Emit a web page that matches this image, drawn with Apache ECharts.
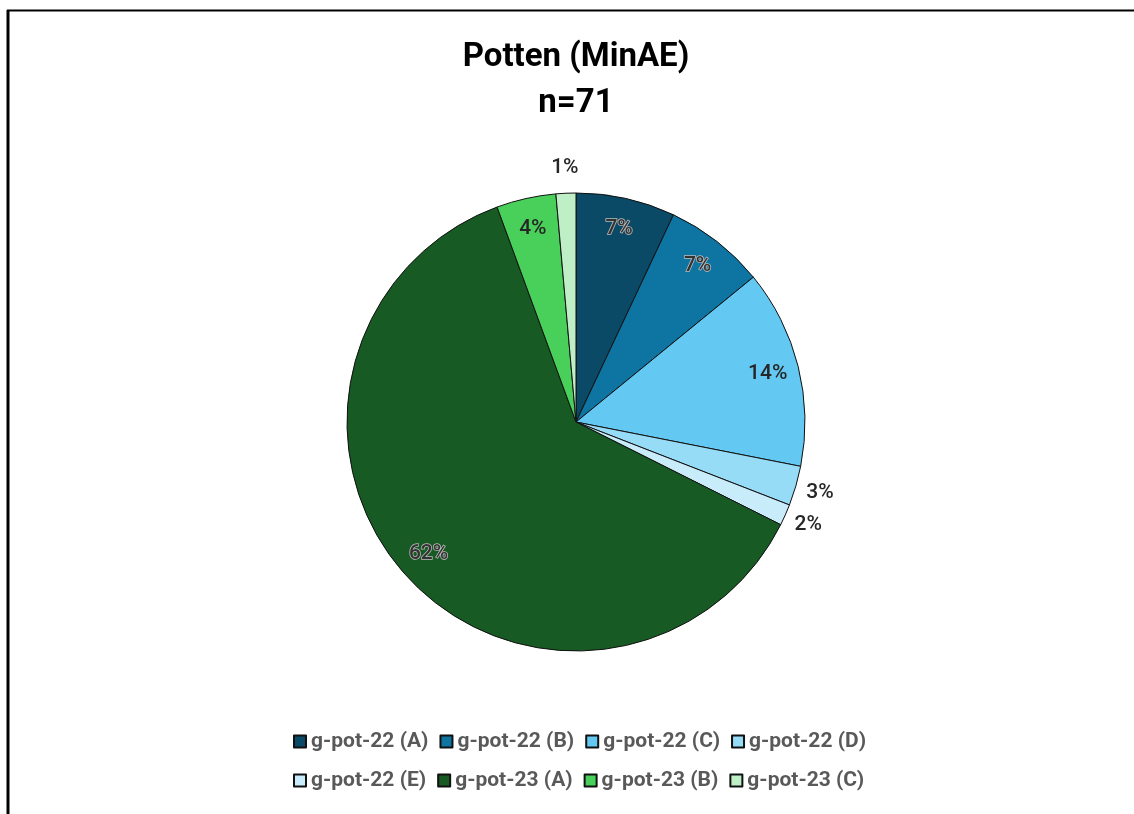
<!DOCTYPE html>
<html>
<head>
<meta charset="utf-8">
<script src="https://cdn.jsdelivr.net/npm/echarts@6/dist/echarts.min.js"></script>
<style>
  html,body{margin:0;padding:0;background:#fff;}
  #chart{width:1134px;height:814px;}
</style>
</head>
<body>
<div id="chart"></div>
<script>
// 数据：各分组所占百分比
const categories = ['g-pot-22 (A)','g-pot-22 (B)','g-pot-22 (C)','g-pot-22 (D)',
                    'g-pot-22 (E)','g-pot-23 (A)','g-pot-23 (B)','g-pot-23 (C)']
const shares = [7.0, 7.1, 14.0, 2.8, 1.5, 62.0, 4.2, 1.4]
const sampleSize = 71

const palette = ['#0b4a66','#0e74a2','#63c9f2','#96dcf7','#c9ecfa','#175a23','#48d05a','#bfefc6']

const R = 229
const center = [576, 422]
const font = 'Roboto'

function isDark(hex){
  const n = parseInt(hex.slice(1),16)
  const r = n>>16, g = (n>>8)&255, b = n&255
  return (0.299*r + 0.587*g + 0.114*b) < 110
}

const mainData = categories.map((name,i)=>({
  name, value: shares[i],
  itemStyle:{color: palette[i]}
}))

// 标签环：大块标签在内，小块标签在外
function labelRing(inside){
  return categories.map((name,i)=>{
    const show = inside ? shares[i] >= 4 : shares[i] < 4
    const halo = inside && isDark(palette[i])
    return {
      name, value: shares[i],
      itemStyle:{color:'transparent', borderWidth:0},
      label:{
        show,
        color: halo ? '#333' : '#262626',
        textBorderColor: halo ? '#bdbdbd' : 'transparent',
        textBorderWidth: halo ? 1.5 : 0
      }
    }
  })
}

const labelBase = {
  position:'inside',
  fontFamily: font,
  fontSize: 21,
  formatter: p => Math.round(p.value) + '%'
}

const chart = echarts.init(document.getElementById('chart'))
chart.setOption({
  animation:false,
  backgroundColor:'#fff',
  title:{
    text:'Potten (MinAE)\nn=' + sampleSize,
    left:576,
    top:35,
    textAlign:'center',
    padding:0,
    textStyle:{
      fontFamily: font,
      fontSize:33,
      fontWeight:'bold',
      lineHeight:46,
      color:'#000'
    }
  },
  legend:[0,1].map(row=>({
    data: categories.slice(row*4, row*4+4),
    left:293,
    top: 731 + row*39,
    padding:0,
    icon:'rect',
    itemWidth:12,
    itemHeight:12,
    itemGap:11,
    selectedMode:false,
    textStyle:{
      fontFamily: font,
      fontSize:21,
      fontWeight:'bold',
      color:'#595959'
    }
  })),
  graphic:[
    {type:'line', shape:{x1:7, y1:10.5, x2:1134, y2:10.5}, style:{stroke:'#000', lineWidth:2}},
    {type:'line', shape:{x1:8, y1:10, x2:8, y2:814}, style:{stroke:'#000', lineWidth:3}}
  ],
  series:[
    {
      type:'pie',
      center,
      radius:R,
      startAngle:90,
      clockwise:true,
      label:{show:false},
      labelLine:{show:false},
      itemStyle:{borderColor:'#111', borderWidth:1},
      emphasis:{disabled:true},
      data: mainData
    },
    {
      type:'pie',
      center,
      radius:[R*0.7, R],
      startAngle:90,
      silent:true,
      avoidLabelOverlap:false,
      label:{...labelBase, fontWeight:500},
      labelLine:{show:false},
      emphasis:{disabled:true},
      data: labelRing(true)
    },
    {
      type:'pie',
      center,
      radius:[R, R+44],
      startAngle:90,
      silent:true,
      avoidLabelOverlap:false,
      label:{...labelBase, fontWeight:500},
      labelLine:{show:false},
      emphasis:{disabled:true},
      data: labelRing(false)
    }
  ]
})
</script>
</body>
</html>
